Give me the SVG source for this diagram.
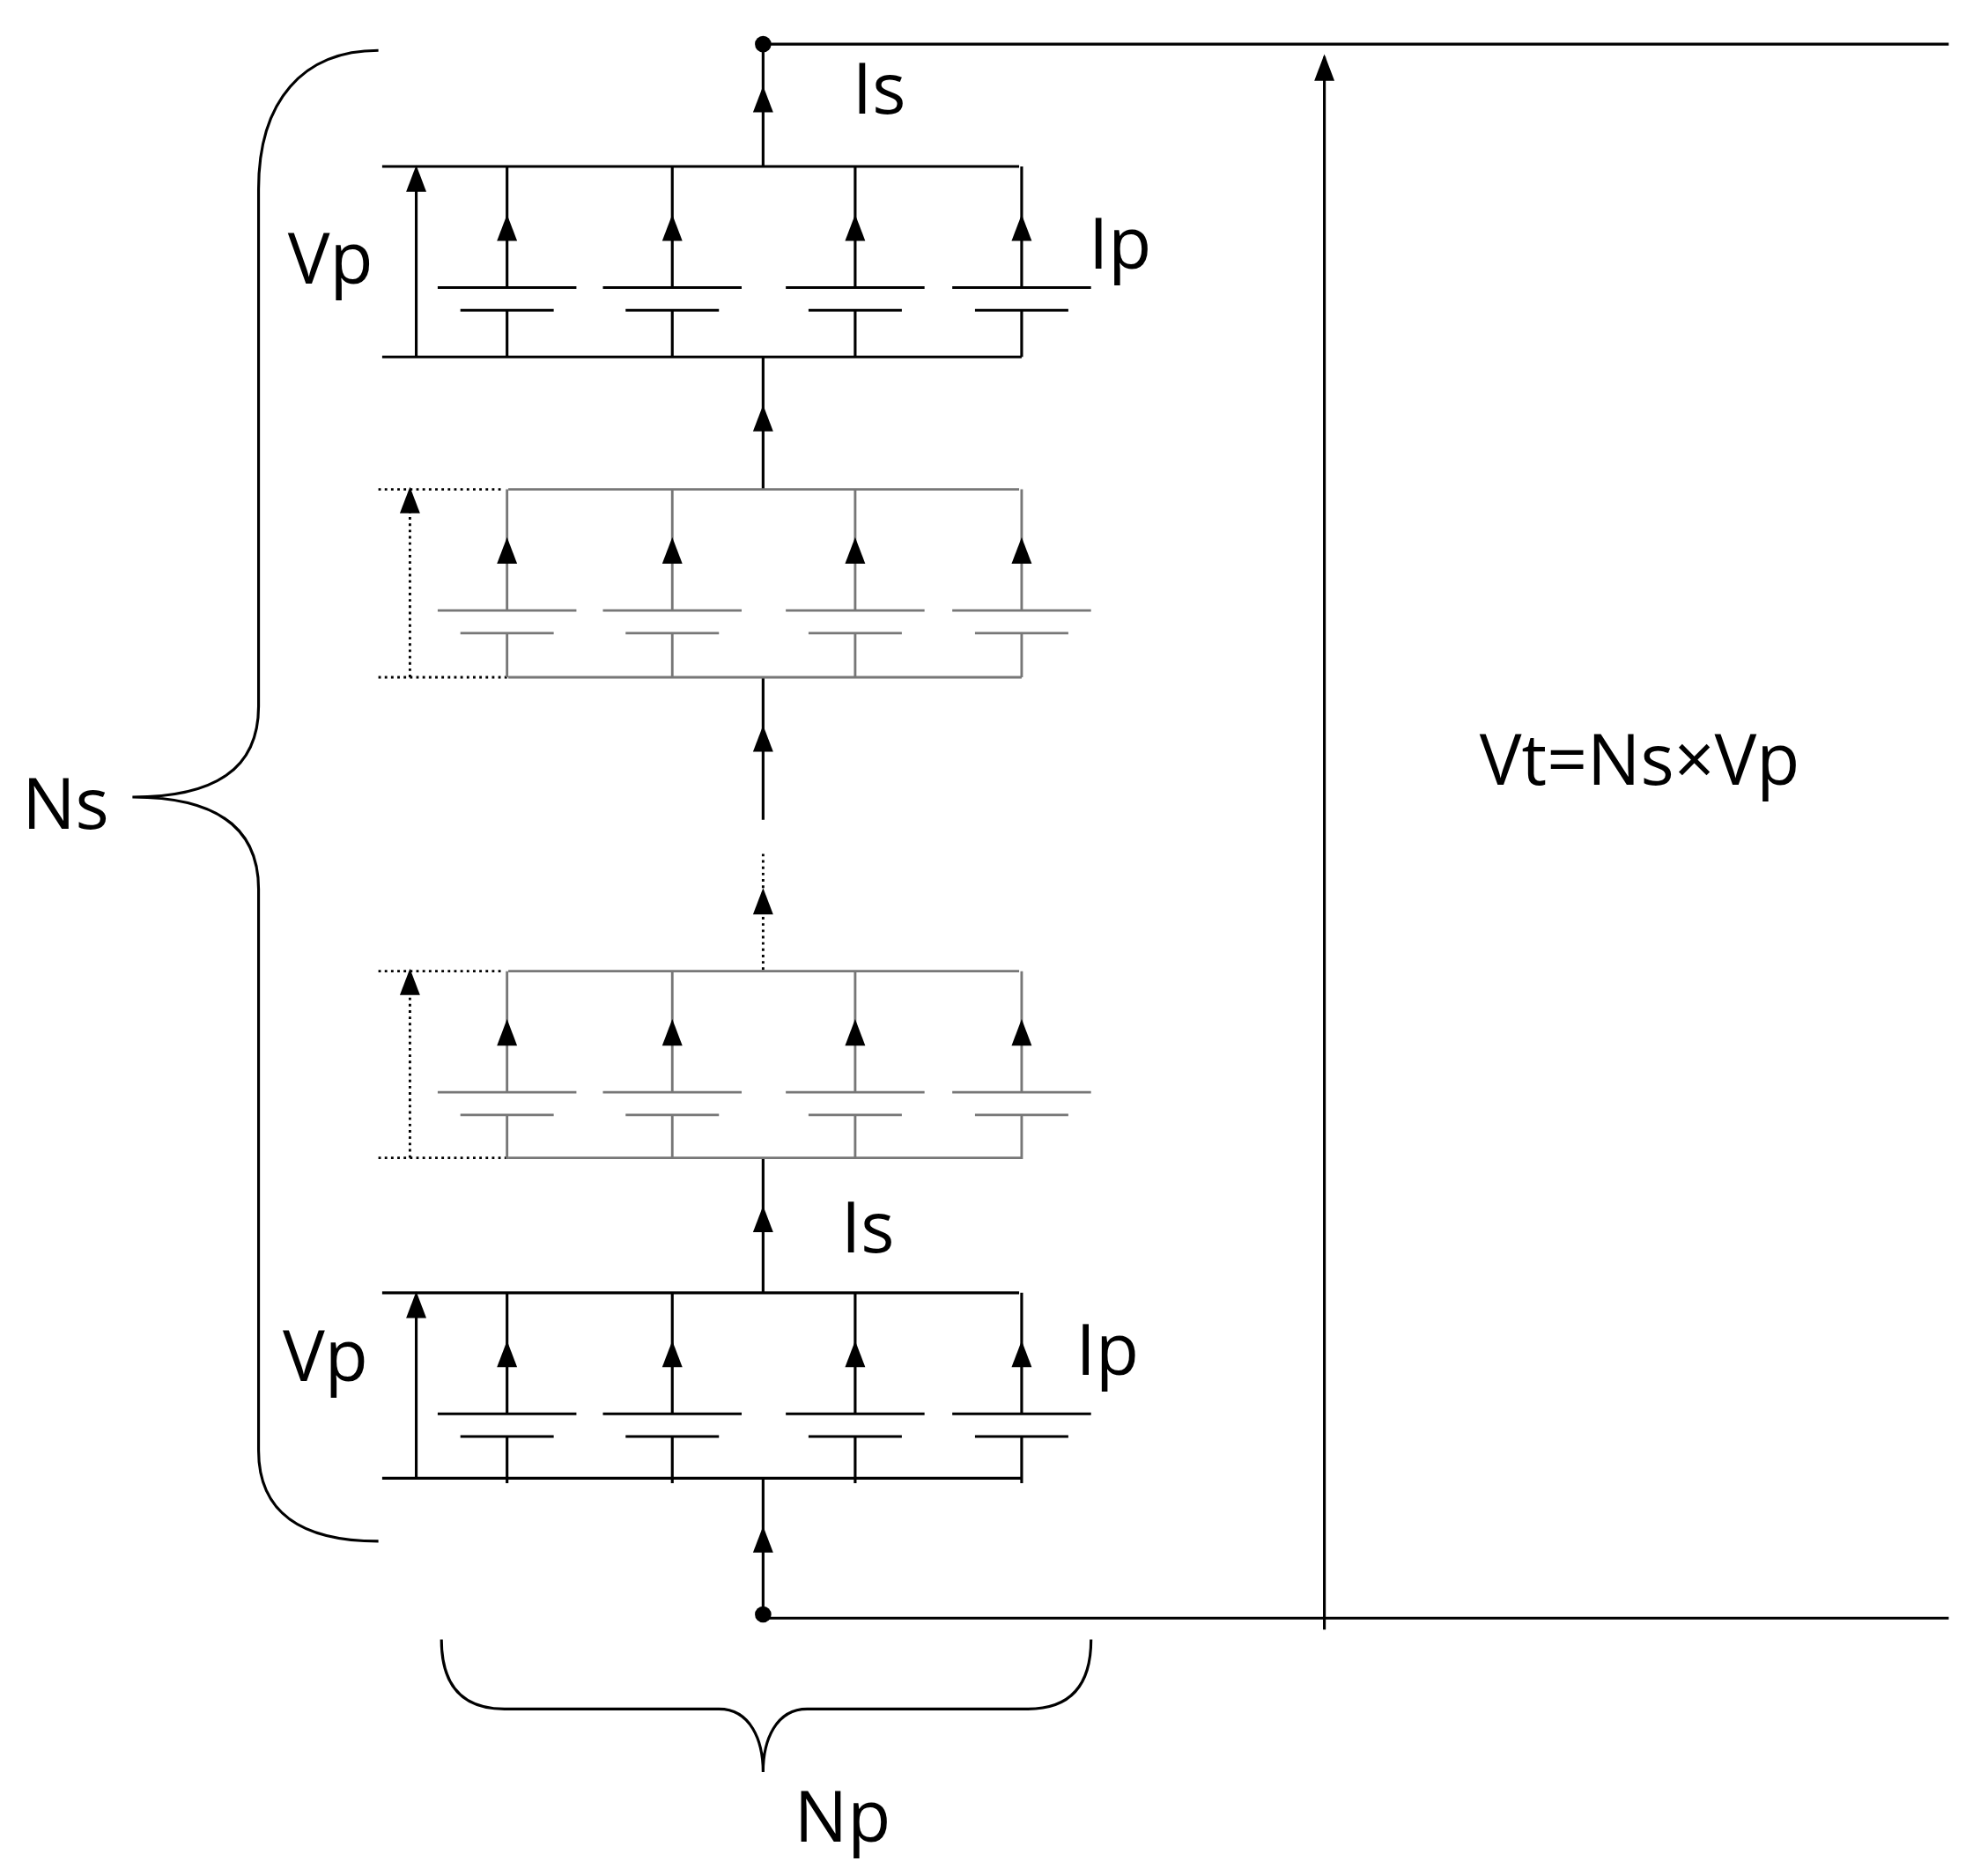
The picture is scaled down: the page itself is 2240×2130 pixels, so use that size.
<svg xmlns="http://www.w3.org/2000/svg" xmlns:xlink="http://www.w3.org/1999/xlink" width="2240" height="2130" viewBox="0 0 2240 2130">
<style>
.k{stroke:#000;stroke-width:2.2;fill:none}
.g{stroke:#777;stroke-width:2;fill:none}
.d{stroke:#000;stroke-width:2;stroke-dasharray:2 3;fill:none}
.t{font-family:"Open Sans","DejaVu Sans",sans-serif;font-size:56px;fill:#000}
</style>
<defs>
<path id="ah" d="M0,-12 L8,9 L-8,9 Z" fill="#000"/>
<g id="cellK">
<path class="k" d="M0,0 V96 M-55,96 H55 M-37,114 H37 M0,114 V151"/>
<use xlink:href="#ah" y="50"/>
</g>
<g id="cellG">
<path class="g" d="M0,0 V96 M-55,96 H55 M-37,114 H37 M0,114 V149"/>
<use xlink:href="#ah" y="50"/>
</g>
</defs>
<g transform="scale(1.432)">
<g id="connectors">
<path class="k" d="M605,35 H1545 M605,1283 H1545 M1050,1292 V45 M605,35 V132 M605,283 V388 M605,537 V650 M605,918 V1025 M605,1172 V1280"/>
<path class="d" d="M605,677 V770"/>
<use xlink:href="#ah" x="1050" y="55"/>
<use xlink:href="#ah" x="605" y="80"/>
<use xlink:href="#ah" x="605" y="333"/>
<use xlink:href="#ah" x="605" y="587"/>
<use xlink:href="#ah" x="605" y="716"/>
<use xlink:href="#ah" x="605" y="968"/>
<use xlink:href="#ah" x="605" y="1222"/>
<circle cx="605" cy="35" r="6.5" fill="#000"/>
<circle cx="605" cy="1280" r="6.5" fill="#000"/>
</g>
<g id="block1">
<path class="k" d="M303,132 H808 M303,283 H810 M330,283 V140"/>
<use xlink:href="#ah" x="330" y="143"/>
<use xlink:href="#cellK" x="402" y="132"/>
<use xlink:href="#cellK" x="533" y="132"/>
<use xlink:href="#cellK" x="678" y="132"/>
<use xlink:href="#cellK" x="810" y="132"/>
</g>
<g id="block2">
<path class="g" d="M403,388 H808 M403,537 H810"/>
<path class="d" d="M300,388 H400 M300,537 H403 M325,537 V400"/>
<use xlink:href="#ah" x="325" y="398"/>
<use xlink:href="#cellG" x="402" y="388"/>
<use xlink:href="#cellG" x="533" y="388"/>
<use xlink:href="#cellG" x="678" y="388"/>
<use xlink:href="#cellG" x="810" y="388"/>
</g>
<g id="block3">
<path class="g" d="M403,770 H808 M403,918 H810"/>
<path class="d" d="M300,770 H400 M300,918 H403 M325,918 V782"/>
<use xlink:href="#ah" x="325" y="780"/>
<use xlink:href="#cellG" x="402" y="770"/>
<use xlink:href="#cellG" x="533" y="770"/>
<use xlink:href="#cellG" x="678" y="770"/>
<use xlink:href="#cellG" x="810" y="770"/>
</g>
<g id="block4">
<path class="k" d="M303,1025 H808 M303,1172 H810 M330,1172 V1033"/>
<use xlink:href="#ah" x="330" y="1036"/>
<use xlink:href="#cellK" x="402" y="1025"/>
<use xlink:href="#cellK" x="533" y="1025"/>
<use xlink:href="#cellK" x="678" y="1025"/>
<use xlink:href="#cellK" x="810" y="1025"/>
</g>
<g id="braces">
<path class="k" stroke-width="1.8" d="M300,40 C240,40 205,80 205,150 L205,560 C205,610 170,632 105,632 C170,632 205,655 205,705 L205,1150 C205,1200 240,1222 300,1222"/>
<path class="k" stroke="#555" stroke-width="1.8" d="M350,1300 C350,1335 365,1355 400,1355 L570,1355 C595,1355 605,1380 605,1405 C605,1380 615,1355 640,1355 L815,1355 C850,1355 865,1335 865,1300"/>
</g>
<g id="labels">
<text class="t" x="697" y="90" text-anchor="middle">Is</text>
<text class="t" x="262" y="225" text-anchor="middle">Vp</text>
<text class="t" x="888" y="213" text-anchor="middle">Ip</text>
<text class="t" x="688" y="993" text-anchor="middle">Is</text>
<text class="t" x="258" y="1095" text-anchor="middle">Vp</text>
<text class="t" x="878" y="1090" text-anchor="middle">Ip</text>
<text class="t" x="52" y="657" text-anchor="middle">Ns</text>
<text class="t" x="668" y="1460" text-anchor="middle">Np</text>
<text class="t" x="1300" y="622" text-anchor="middle" font-size="60">Vt=Ns×Vp</text>
</g>
</g>
</svg>
